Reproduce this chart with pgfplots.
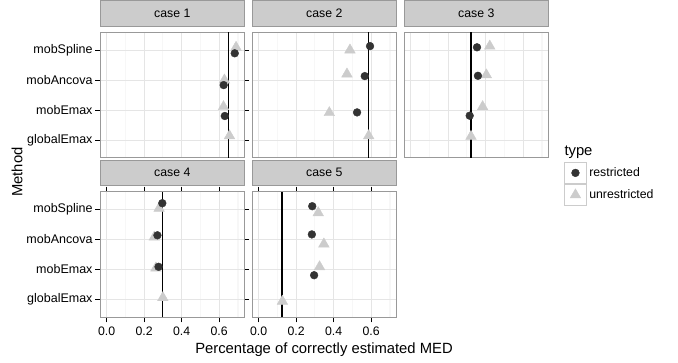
\documentclass[border=0pt]{standalone}
\usepackage{fontspec}
\setmainfont{Liberation Sans}
\usepackage{pgfplots}
\pgfplotsset{compat=1.18}

\definecolor{restr}{HTML}{333333}
\definecolor{unrestr}{HTML}{CCCCCC}
\definecolor{stripfill}{HTML}{CCCCCC}
\definecolor{bordergray}{HTML}{999999}
\definecolor{gridmaj}{HTML}{E5E5E5}
\definecolor{gridmin}{HTML}{F7F7F7}

\newcommand{\ticksize}{\fontsize{12.3}{14}\selectfont}
\newcommand{\ylabsize}{\fontsize{12.5}{14}\selectfont}
\newcommand{\titlesize}{\fontsize{14.8}{17}\selectfont}

\pgfplotsset{
  panel/.style={
    scale only axis, width=144.5pt, height=126pt,
    xmin=-0.035, xmax=0.735, ymin=0.4, ymax=4.6,
    xtick={0,0.2,0.4,0.6}, minor xtick={0.1,0.3,0.5,0.7},
    ytick={1,2,3,4},
    xticklabels={}, yticklabels={},
    grid=both,
    major grid style={draw=gridmaj, line width=0.6pt},
    minor grid style={draw=gridmin, line width=1.2pt},
    minor tick length=0pt,
    axis line style={draw=bordergray, line width=1pt},
    tick align=outside, major tick length=4.8pt,
    xtick style={draw=none}, ytick style={draw=none},
    /pgf/number format/assume math mode=true,
    yticklabel style={font=\ylabsize, text=black, inner xsep=2.5pt},
    xticklabel style={font=\ticksize, text=black, inner ysep=4.5pt},
    title style={at={(0.5,1)}, anchor=south, fill=stripfill, draw=bordergray,
      line width=0.5pt, minimum width=144.5pt, minimum height=25.5pt,
      inner sep=0pt, font=\ticksize, text=black},
    clip=false,
  },
  leftpanel/.style={
    yticklabels={globalEmax,mobEmax,mobAncova,mobSpline},
    ytick style={draw=black, line width=0.8pt},
  },
  bottompanel/.style={
    xticklabels={0.0,0.2,0.4,0.6},
    xtick style={draw=black, line width=0.8pt},
  },
  unr/.style={only marks, mark=triangle*, mark size=6.1pt, color=unrestr},
  res/.style={only marks, mark=*, mark size=3.9pt, color=restr},
  vl/.style={black, line width=1.1pt, forget plot},
}

\begin{document}
\begin{tikzpicture}
\path[use as bounding box] (0,0) rectangle (678pt,-362pt);

% case 1
\begin{axis}[panel, leftpanel, at={(100pt,-32pt)}, anchor=north west, title={case 1}]
\addplot[unr] coordinates {(0.690,4.09) (0.628,3.00) (0.623,2.11) (0.655,1.14)};
\addplot[res] coordinates {(0.683,3.89) (0.624,2.83) (0.630,1.80)};
\addplot[vl] coordinates {(0.651,0.4) (0.651,4.6)};
\end{axis}

% case 2
\begin{axis}[panel, at={(252pt,-32pt)}, anchor=north west, title={case 2}]
\addplot[unr] coordinates {(0.487,4.00) (0.471,3.20) (0.377,1.91) (0.587,1.14)};
\addplot[res] coordinates {(0.594,4.13) (0.566,3.13) (0.525,1.92)};
\addplot[vl] coordinates {(0.587,0.4) (0.587,4.6)};
\end{axis}

% case 3
\begin{axis}[panel, at={(404pt,-32pt)}, anchor=north west, title={case 3},
  reverse legend,
  legend style={at={(axis description cs:1.1073,-0.0294)}, anchor=north west,
    draw=none, fill=none, inner sep=0pt, row sep=0pt, font=\ticksize,
    nodes={inner xsep=2.6pt, inner ysep=0pt}},
  legend cell align=left,
  legend image code/.code={
    \draw[draw=unrestr, fill=white, line width=0.8pt] (-10.85pt,-10.6pt) rectangle (10.85pt,10.6pt);
    \draw[#1] plot coordinates {(0pt,0pt)};
  }]
\addplot[unr] coordinates {(0.422,4.13) (0.404,3.17) (0.384,2.11) (0.322,1.12)};
\addlegendentry{unrestricted}
\addplot[res] coordinates {(0.354,4.09) (0.359,3.14) (0.315,1.81)};
\addlegendentry{restricted}
\addplot[vl] coordinates {(0.322,0.4) (0.322,4.6)};
\end{axis}

% case 4
\begin{axis}[panel, leftpanel, bottompanel, at={(100pt,-191.5pt)}, anchor=north west, title={case 4}]
\addplot[unr] coordinates {(0.280,4.04) (0.254,3.08) (0.263,2.05) (0.300,1.06)};
\addplot[res] coordinates {(0.297,4.21) (0.271,3.14) (0.277,2.09)};
\addplot[vl] coordinates {(0.297,0.4) (0.297,4.6)};
\end{axis}

% case 5
\begin{axis}[panel, bottompanel, at={(252pt,-191.5pt)}, anchor=north west, title={case 5}]
\addplot[unr] coordinates {(0.318,3.89) (0.348,2.85) (0.325,2.09) (0.127,0.94)};
\addplot[res] coordinates {(0.286,4.11) (0.284,3.17) (0.296,1.81)};
\addplot[vl] coordinates {(0.125,0.4) (0.125,4.6)};
\end{axis}

\node[anchor=base, font=\titlesize] at (324pt,-353pt) {Percentage of correctly estimated MED};
\node[anchor=base, rotate=90, font=\titlesize] at (22.5pt,-172pt) {Method};
\node[anchor=base west, inner sep=0pt, font=\titlesize] at (564.3pt,-155.5pt) {type};
\end{tikzpicture}
\end{document}
